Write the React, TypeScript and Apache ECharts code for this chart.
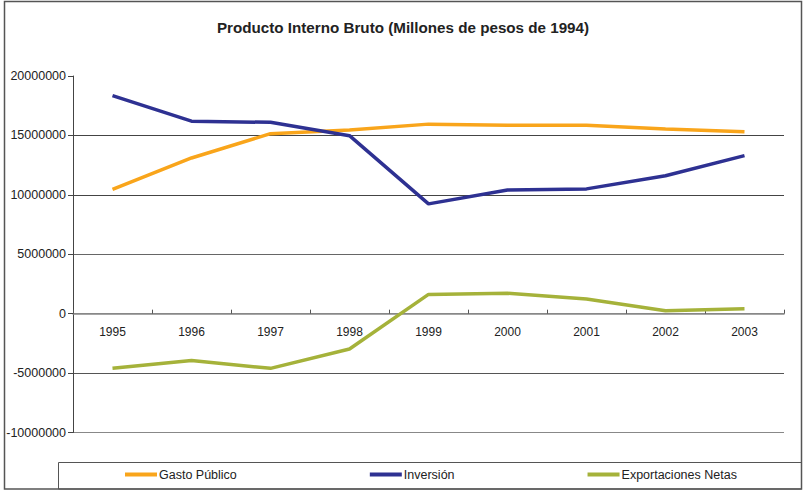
import React, { useEffect, useRef } from "react";
import * as echarts from "echarts";

const years = ["1995", "1996", "1997", "1998", "1999", "2000", "2001", "2002", "2003"];
const gastoPublico = [10450000, 13100000, 15150000, 15450000, 15950000, 15850000, 15850000, 15550000, 15300000];
const inversion = [18350000, 16200000, 16100000, 14980000, 9240000, 10400000, 10500000, 11600000, 13300000];
const exportacionesNetas = [-4600000, -3950000, -4600000, -2970000, 1620000, 1720000, 1240000, 250000, 420000];

const titleText = "Producto Interno Bruto (Millones de pesos de 1994)";
const seriesNames = ["Gasto Público", "Inversión", "Exportaciones Netas"];
const colors = ["#F9A51B", "#2E3192", "#A5B23A"];

const Y_MIN = -10000000;
const Y_MAX = 20000000;
const Y_STEP = 5000000;

export default function App() {
  const ref = useRef<HTMLDivElement>(null);
  useEffect(() => {
    if (!ref.current) return;
    const chart = echarts.init(ref.current, undefined, { renderer: "svg" });
    const font = "Liberation Sans, Arial, sans-serif";
    const gridTop = 76;
    const gridBottom = 58.5;
    const plotH = 491 - gridTop - gridBottom;
    const zeroOffset = -plotH * (0 - Y_MIN) / (Y_MAX - Y_MIN);
    const mk = (name: string, data: number[], color: string) => ({
      name,
      type: "line",
      data,
      symbol: "none",
      lineStyle: { width: 3.5, color },
      itemStyle: { color },
    });
    chart.setOption({
      animation: false,
      backgroundColor: "#ffffff",
      textStyle: { fontFamily: font },
      title: {
        text: titleText,
        left: "center",
        top: 15,
        textStyle: { fontFamily: font, fontSize: 15.2, fontWeight: "bold", color: "#222" },
      },
      legend: {
        left: 125,
        top: 468,
        padding: 0,
        itemGap: 133,
        itemWidth: 32,
        itemHeight: 4,
        icon: "rect",
        textStyle: { fontFamily: font, fontSize: 12.5, color: "#222", padding: [0, 0, 0, -3] },
        data: seriesNames,
      },
      grid: { left: 73, right: 22, top: gridTop, bottom: gridBottom, containLabel: false },
      xAxis: {
        type: "category",
        data: years,
        boundaryGap: true,
        position: "bottom",
        offset: zeroOffset,
        axisLine: { onZero: false, lineStyle: { color: "#888", width: 1.5 } },
        axisTick: { show: true, length: 4, inside: true, lineStyle: { color: "#555" } },
        axisLabel: { fontFamily: font, fontSize: 12, color: "#222", margin: 12 },
      },
      yAxis: {
        type: "value",
        min: Y_MIN,
        max: Y_MAX,
        interval: Y_STEP,
        axisLine: { show: true, lineStyle: { color: "#444", width: 1 } },
        axisTick: { show: true, length: 5, lineStyle: { color: "#444" } },
        axisLabel: {
          fontFamily: font,
          fontSize: 12.5,
          color: "#222",
          margin: 7,
          formatter: (v: number) => String(v),
        },
        splitLine: {
          show: true,
          lineStyle: {
            color: ["#888", "#555", "#888", "#666", "#444", "#444", "transparent"],
            width: 1,
          },
        },
      },
      graphic: [
        {
          type: "rect",
          shape: { x: 4.5, y: 1.5, width: 797, height: 487.5 },
          style: { fill: "none", stroke: "#555", lineWidth: 1.5 },
          silent: true,
          z: -1,
        },
        {
          type: "rect",
          shape: { x: 58.5, y: 462.5, width: 743, height: 26.5 },
          style: { fill: "none", stroke: "#555", lineWidth: 1 },
          silent: true,
          z: -1,
        },
      ],
      series: [
        mk(seriesNames[0], gastoPublico, colors[0]),
        mk(seriesNames[1], inversion, colors[1]),
        mk(seriesNames[2], exportacionesNetas, colors[2]),
      ],
    });
    return () => chart.dispose();
  }, []);
  return (
    <div
      ref={ref}
      style={{ position: "fixed", left: 0, top: 0, width: 806, height: 491, background: "#fff" }}
    />
  );
}
